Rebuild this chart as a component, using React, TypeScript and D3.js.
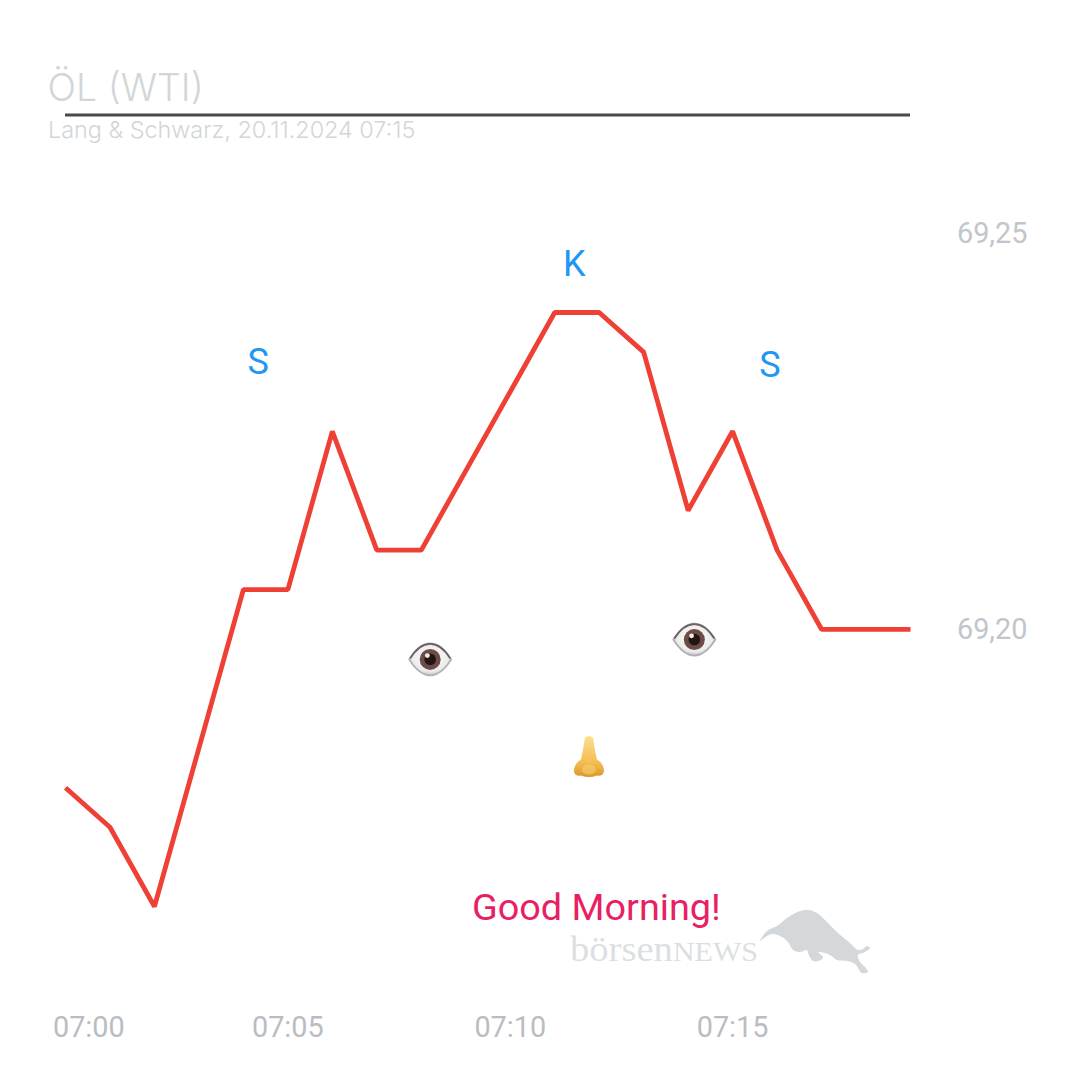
import React from "react";
import * as d3 from "d3";

const minutes = d3.range(0, 20);
const prices = [69.18, 69.175, 69.165, 69.185, 69.205, 69.205, 69.225, 69.21, 69.21, 69.22, 69.23, 69.24, 69.24, 69.235, 69.215, 69.225, 69.21, 69.2, 69.2, 69.2];
const yTicks = [69.25, 69.2];
const yTickLabels = ["69,25", "69,20"];
const xTickLabels = [
  { label: "07:00", minute: 0, anchor: "start" },
  { label: "07:05", minute: 5, anchor: "middle" },
  { label: "07:10", minute: 10, anchor: "middle" },
  { label: "07:15", minute: 15, anchor: "middle" },
];
const formationLabels = [
  { text: "S", minute: 4.33, value: 69.2322 },
  { text: "K", minute: 11.44, value: 69.2446 },
  { text: "S", minute: 15.84, value: 69.2318 },
];
const eyes = [
  { minute: 8.2, value: 69.1962 },
  { minute: 14.14, value: 69.1987 },
];
const nose = { minute: 11.77, value: 69.1838 };

const bullOutline: [number, number][] = [
  [760, 941], [765, 933], [770, 929], [777, 926], [787, 918], [800, 911], [808, 910], [817, 913], [825, 920],
  [837, 932], [850, 943], [858, 950], [863, 949], [867, 946], [870, 948], [865, 952], [858, 955], [860, 962],
  [865, 967], [868, 972], [862, 973], [855, 964], [847, 961], [837, 960], [830, 955], [818, 952], [823, 957],
  [821, 960], [813, 961], [808, 953], [807, 950], [800, 952], [793, 950], [788, 942], [782, 937], [773, 934], [767, 936],
];

const font = "Roboto, sans-serif";

function Eye({ cx, cy }: { cx: number; cy: number }) {
  return (
    <g transform={`translate(${cx},${cy})`}>
      <path d="M-21,0 Q-11,-16 0,-16 Q11,-16 21,0 Q11,16 0,16 Q-11,16 -21,0 Z" fill="url(#eyeWhite)" stroke="#b3afb1" strokeWidth={1.8} />
      <path d="M-20,-1 Q-11,-15.5 0,-15.5 Q11,-15.5 20,-1" fill="none" stroke="#6a6163" strokeWidth={1.8} />
      <circle r={10.5} fill="#6d4c47" />
      <circle r={5.8} fill="#211614" />
      <circle cx={-2.8} cy={-3.8} r={2.4} fill="#f3e9e5" />
    </g>
  );
}

function Nose({ cx, cy }: { cx: number; cy: number }) {
  return (
    <g transform={`translate(${cx},${cy})`}>
      <path
        d="M-4,-20 Q0,-23 4,-20 Q6,-6 8,2 Q15,6 15,14 Q14,19 8,18 Q0,21 -8,18 Q-14,19 -15,14 Q-15,6 -8,2 Q-6,-6 -4,-20 Z"
        fill="url(#noseFill)"
      />
      <ellipse cx={0} cy={12} rx={7} ry={5} fill="#f7cf74" opacity={0.6} />
    </g>
  );
}

export default function App() {
  const x = d3.scaleLinear().domain([0, 19]).range([65.5, 910.5]);
  const y = d3.scaleLinear().domain([69.2, 69.25]).range([629.3, 233.3]);
  const line = d3.line<number>().x((_, i) => x(minutes[i])).y((d) => y(d));
  const bull = d3.line().curve(d3.curveCatmullRomClosed.alpha(0.5))(bullOutline) as string;

  return (
    <svg width={1080} height={1080} viewBox="0 0 1080 1080" style={{ position: "absolute", left: 0, top: 0, background: "#fff" }}>
      <defs>
        <radialGradient id="eyeWhite" cx="50%" cy="45%" r="60%">
          <stop offset="0%" stopColor="#ffffff" />
          <stop offset="70%" stopColor="#ececec" />
          <stop offset="100%" stopColor="#b5b2b3" />
        </radialGradient>
        <linearGradient id="noseFill" x1="0" y1="0" x2="0" y2="1">
          <stop offset="0%" stopColor="#fbe08f" />
          <stop offset="65%" stopColor="#f3bd52" />
          <stop offset="100%" stopColor="#dc9526" />
        </linearGradient>
      </defs>

      <text x={47.5} y={101} fontFamily="Inter, sans-serif" fontWeight={300} fontSize={37.5} fill="#d2d6d9">ÖL (WTI)</text>
      <text x={48} y={138} fontFamily="Inter, sans-serif" fontWeight={300} fontSize={23.4} fill="#d2d6d9">Lang &amp; Schwarz, 20.11.2024 07:15</text>
      <line x1={65} x2={910} y1={115} y2={115} stroke="#4a4a4a" strokeWidth={3} />

      {yTicks.map((t, i) => (
        <text key={t} x={957} y={y(t) + 10} fontFamily={font} fontSize={28.8} fill="#c2c6cb">{yTickLabels[i]}</text>
      ))}
      {xTickLabels.map((t) => (
        <text key={t.label} x={t.minute === 0 ? 53 : x(t.minute)} y={1037} textAnchor={t.anchor as "start" | "middle"} fontFamily={font} fontSize={28.8} fill="#b9bdc3">{t.label}</text>
      ))}

      <path d={line(prices) as string} fill="none" stroke="#ef4035" strokeWidth={4.8} strokeLinejoin="bevel" />

      {formationLabels.map((l, i) => (
        <text key={i} x={x(l.minute)} y={y(l.value)} textAnchor="middle" fontFamily={font} fontSize={36} fill="#2196f3">{l.text}</text>
      ))}

      {eyes.map((e, i) => (
        <Eye key={i} cx={x(e.minute)} cy={y(e.value)} />
      ))}
      <Nose cx={x(nose.minute)} cy={y(nose.value)} />

      <text x={472} y={920} fontFamily={font} fontSize={37.8} fill="#e91e63">Good Morning!</text>

      <text x={570} y={961} fontFamily="'Liberation Serif', serif" fontSize={36} fill="#dcdfe2" textLength={188} lengthAdjust="spacingAndGlyphs">
        börsen<tspan fontSize={28}>NEWS</tspan>
      </text>
      <path d={bull} fill="#d5d8db" />
    </svg>
  );
}
